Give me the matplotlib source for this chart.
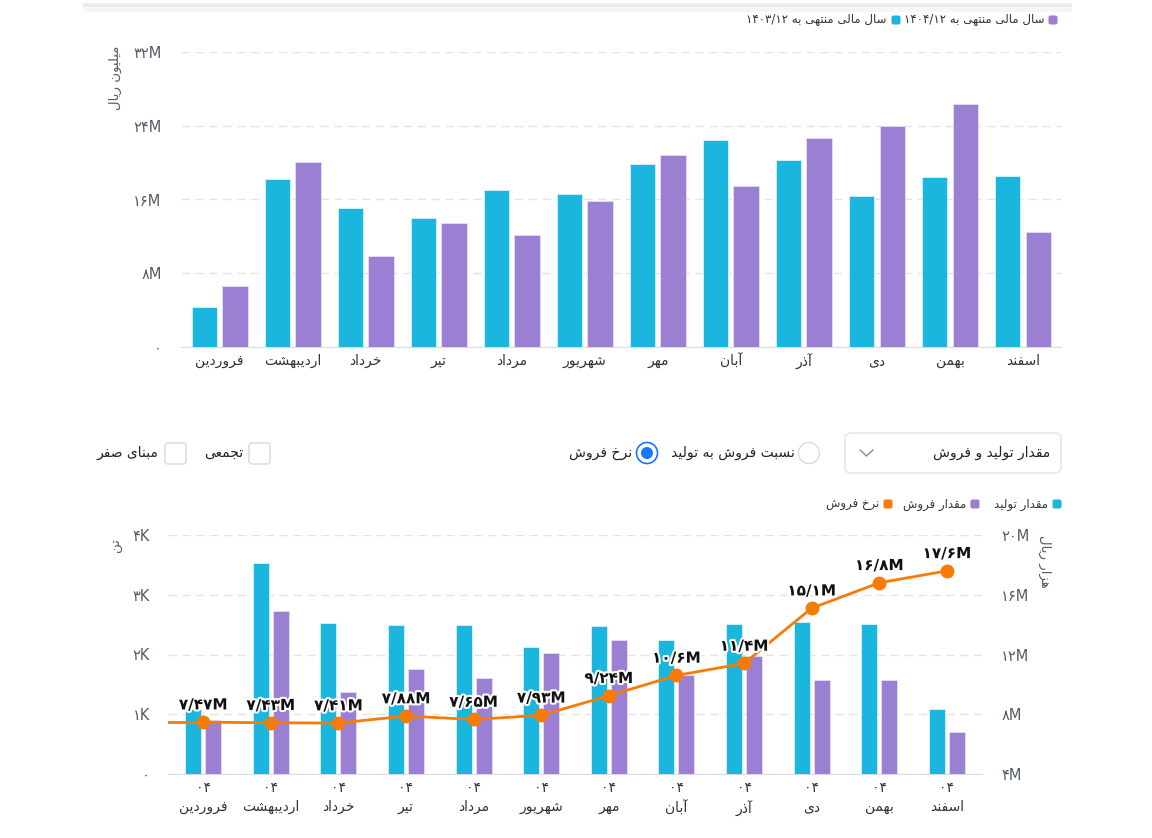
import re
import matplotlib
matplotlib.use("Agg")
import matplotlib.pyplot as plt
import matplotlib.patheffects as pe
from matplotlib.patches import FancyBboxPatch, Circle, Rectangle
from matplotlib.ticker import FuncFormatter

plt.rcParams['font.family'] = ['DejaVu Sans']

# ---------------- data ----------------
months = ['فروردین', 'اردیبهشت', 'خرداد', 'تیر', 'مرداد', 'شهریور',
          'مهر', 'آبان', 'آذر', 'دی', 'بهمن', 'اسفند']

# top chart: revenue (million rial), values in M
rev_1403 = [4.35, 18.2, 15.1, 14.0, 17.0, 16.6, 19.9, 22.4, 20.3, 16.4, 18.4, 18.5]
rev_1404 = [6.6, 20.1, 9.9, 13.5, 12.1, 15.8, 20.8, 17.5, 22.7, 24.0, 26.4, 12.5]
top_ticks = [0, 8, 16, 24, 32]

# bottom chart: production / sales (ton), sales rate (thousand rial)
production = [1090, 3530, 2520, 2490, 2490, 2120, 2470, 2240, 2510, 2540, 2510, 1080]
sales = [910, 2720, 1380, 1750, 1600, 2020, 2250, 1660, 1980, 1580, 1580, 710]
rate = [7.47e6, 7.43e6, 7.41e6, 7.88e6, 7.65e6, 7.93e6, 9.24e6, 10.6e6,
        11.4e6, 15.1e6, 16.8e6, 17.6e6]
year_tag = '04'
ton_ticks = [0, 1000, 2000, 3000, 4000]
rate_ticks = [4e6, 8e6, 12e6, 16e6, 20e6]

CYAN = '#1bb6de'
PURPLE = '#9a7fd3'
ORANGE = '#f77b07'
GRID = '#e3e3ea'
TICK = '#555a66'

# ------------- persian text helpers -------------
FORMS = {  # isolated, final, initial, medial
    'ا': (0xFE8D, 0xFE8E, None, None), 'آ': (0xFE81, 0xFE82, None, None),
    'ب': (0xFE8F, 0xFE90, 0xFE91, 0xFE92), 'پ': (0xFB56, 0xFB57, 0xFB58, 0xFB59),
    'ت': (0xFE95, 0xFE96, 0xFE97, 0xFE98), 'ث': (0xFE99, 0xFE9A, 0xFE9B, 0xFE9C),
    'ج': (0xFE9D, 0xFE9E, 0xFE9F, 0xFEA0), 'چ': (0xFB7A, 0xFB7B, 0xFB7C, 0xFB7D),
    'ح': (0xFEA1, 0xFEA2, 0xFEA3, 0xFEA4), 'خ': (0xFEA5, 0xFEA6, 0xFEA7, 0xFEA8),
    'د': (0xFEA9, 0xFEAA, None, None), 'ذ': (0xFEAB, 0xFEAC, None, None),
    'ر': (0xFEAD, 0xFEAE, None, None), 'ز': (0xFEAF, 0xFEB0, None, None),
    'ژ': (0xFB8A, 0xFB8B, None, None),
    'س': (0xFEB1, 0xFEB2, 0xFEB3, 0xFEB4), 'ش': (0xFEB5, 0xFEB6, 0xFEB7, 0xFEB8),
    'ص': (0xFEB9, 0xFEBA, 0xFEBB, 0xFEBC), 'ض': (0xFEBD, 0xFEBE, 0xFEBF, 0xFEC0),
    'ط': (0xFEC1, 0xFEC2, 0xFEC3, 0xFEC4), 'ظ': (0xFEC5, 0xFEC6, 0xFEC7, 0xFEC8),
    'ع': (0xFEC9, 0xFECA, 0xFECB, 0xFECC), 'غ': (0xFECD, 0xFECE, 0xFECF, 0xFED0),
    'ف': (0xFED1, 0xFED2, 0xFED3, 0xFED4), 'ق': (0xFED5, 0xFED6, 0xFED7, 0xFED8),
    'ک': (0xFB8E, 0xFB8F, 0xFB90, 0xFB91), 'گ': (0xFB92, 0xFB93, 0xFB94, 0xFB95),
    'ل': (0xFEDD, 0xFEDE, 0xFEDF, 0xFEE0), 'م': (0xFEE1, 0xFEE2, 0xFEE3, 0xFEE4),
    'ن': (0xFEE5, 0xFEE6, 0xFEE7, 0xFEE8), 'ه': (0xFEE9, 0xFEEA, 0xFEEB, 0xFEEC),
    'و': (0xFEED, 0xFEEE, None, None), 'ی': (0xFBFC, 0xFBFD, 0xFBFE, 0xFBFF),
}
LTR = r'0-9\u06F0-\u06F9A-Za-z/.%'


def fa_digits(s):
    return s.translate(str.maketrans('0123456789', '۰۱۲۳۴۵۶۷۸۹'))


def fa(text):
    # shape letters, then lay out right-to-left (numbers stay LTR)
    text = fa_digits(text)
    out = []
    for i, c in enumerate(text):
        if c not in FORMS:
            out.append(c)
            continue
        prev = text[i - 1] if i > 0 else ''
        nxt = text[i + 1] if i + 1 < len(text) else ''
        j_prev = prev in FORMS and FORMS[prev][2] is not None
        j_next = nxt in FORMS and FORMS[c][2] is not None
        f = FORMS[c]
        code = f[3] if (j_prev and j_next) else f[1] if j_prev else f[2] if j_next else f[0]
        out.append(chr(code))
    s = ''.join(out)
    runs = re.findall('[' + LTR + ']+|[^' + LTR + ']+', s)
    return ''.join(r if re.match('[' + LTR + ']', r) else r[::-1] for r in reversed(runs))


# ---------------- figure ----------------
W, H = 1152, 838
fig = plt.figure(figsize=(W / 100, H / 100), dpi=100, facecolor='white')


def px_axes(l, t, r, b):
    return fig.add_axes([l / W, 1 - b / H, (r - l) / W, (b - t) / H])


# overlay for widgets / legends in pixel coordinates
ov = fig.add_axes([0, 0, 1, 1], zorder=0)
ov.set_xlim(0, W)
ov.set_ylim(H, 0)
ov.axis('off')

# card top shadow
ov.add_patch(Rectangle((83, 3), 989, 4, color='#ebeaee', lw=0))
ov.add_patch(Rectangle((83, 7), 989, 5, color='#f6f5f8', lw=0))


def legend_item(x_sq, y, color, label, size=8.5):
    ov.add_patch(FancyBboxPatch((x_sq - 4.5, y - 4.5), 9, 9, boxstyle='round,pad=0,rounding_size=2',
                                fc=color, ec='none'))
    ov.text(x_sq - 9, y, fa(label), ha='right', va='center', fontsize=size, color='#333333')


legend_item(1053, 20, PURPLE, 'سال مالی منتهی به 1404/12')
legend_item(896, 20, CYAN, 'سال مالی منتهی به 1403/12')

# ---------------- top chart ----------------
ax1 = px_axes(181, 52, 1061, 347)
x = range(len(months))
ax1.bar([i - 0.21 for i in x], rev_1403, width=0.35, color=CYAN, edgecolor='#d8f3fa', linewidth=0.6, zorder=3)
ax1.bar([i + 0.21 for i in x], rev_1404, width=0.35, color=PURPLE, edgecolor='#e6def7', linewidth=0.6, zorder=3)
ax1.set_xlim(-0.53, 11.52)
ax1.set_ylim(0, 32)
ax1.set_yticks(top_ticks)
ax1.yaxis.set_major_formatter(FuncFormatter(lambda v, _: fa_digits(f'{v:g}M') if v else '۰'))
ax1.set_xticks(list(x))
ax1.set_xticklabels([fa(m) for m in months], fontsize=10, color='#333333')
ax1.tick_params(axis='y', length=0, pad=14, labelsize=10.5, labelcolor=TICK)
ax1.tick_params(axis='x', length=0, pad=5)
ax1.grid(axis='y', color=GRID, linestyle=(0, (6, 4)), linewidth=1, zorder=0)
for s in ['top', 'right', 'left']:
    ax1.spines[s].set_visible(False)
ax1.spines['bottom'].set_color('#dcdce6')
ax1.set_facecolor('none')
ov.text(115, 46, fa('میلیون ریال'), rotation=90, ha='center', va='top', fontsize=9.5, color=TICK)

# ---------------- middle controls ----------------
ov.add_patch(FancyBboxPatch((845, 433), 216, 40, boxstyle='round,pad=0,rounding_size=6',
                            fc='white', ec='#e2e2e8', lw=1))
ov.text(1050, 453, fa('مقدار تولید و فروش'), ha='right', va='center', fontsize=10, color='#222222')
ov.plot([860, 866.5, 873], [450, 456, 450], color='#8a8a95', lw=1)

ov.add_patch(Circle((809, 453), 10.5, fc='white', ec='#d9d9de', lw=1))
ov.text(795, 453, fa('نسبت فروش به تولید'), ha='right', va='center', fontsize=10, color='#222222')
ov.add_patch(Circle((647, 453), 10.5, fc='white', ec='#1677ff', lw=1.2))
ov.add_patch(Circle((647, 453), 6, fc='#1677ff', ec='none'))
ov.text(632, 453, fa('نرخ فروش'), ha='right', va='center', fontsize=10, color='#222222')

ov.add_patch(FancyBboxPatch((249, 443), 21, 21, boxstyle='round,pad=0,rounding_size=3',
                            fc='white', ec='#d9d9de', lw=1))
ov.text(243, 453, fa('تجمعی'), ha='right', va='center', fontsize=10, color='#222222')
ov.add_patch(FancyBboxPatch((165, 443), 21, 21, boxstyle='round,pad=0,rounding_size=3',
                            fc='white', ec='#d9d9de', lw=1))
ov.text(158, 453, fa('مبنای صفر'), ha='right', va='center', fontsize=10, color='#222222')

legend_item(1057, 504, CYAN, 'مقدار تولید')
legend_item(975, 504, PURPLE, 'مقدار فروش')
legend_item(888, 504, ORANGE, 'نرخ فروش')

# ---------------- bottom chart ----------------
ax2 = px_axes(168, 535, 982, 774)
ax2.bar([i - 0.148 for i in x], production, width=0.235, color=CYAN, edgecolor='#d8f3fa', linewidth=0.6, zorder=3)
ax2.bar([i + 0.148 for i in x], sales, width=0.235, color=PURPLE, edgecolor='#e6def7', linewidth=0.6, zorder=3)
ax2.set_xlim(-0.52, 11.52)
ax2.set_ylim(0, 4000)
ax2.set_yticks(ton_ticks)
ax2.yaxis.set_major_formatter(FuncFormatter(lambda v, _: fa_digits(f'{v / 1000:g}K') if v else '۰'))
ax2.set_xticks(list(x))
ax2.set_xticklabels([fa_digits(year_tag) + '\n' + fa(m) for m in months], fontsize=10,
                    color='#333333', linespacing=1.45)
ax2.tick_params(axis='y', length=0, pad=13, labelsize=10.5, labelcolor=TICK)
ax2.tick_params(axis='x', length=0, pad=5)
ax2.grid(axis='y', color=GRID, linestyle=(0, (6, 4)), linewidth=1, zorder=0)
for s in ['top', 'right', 'left']:
    ax2.spines[s].set_visible(False)
ax2.spines['bottom'].set_color('#dcdce6')
ax2.set_facecolor('none')

ax3 = ax2.twinx()
ax3.set_ylim(4e6, 20e6)
ax3.set_yticks(rate_ticks)
ax3.yaxis.set_major_formatter(FuncFormatter(lambda v, _: fa_digits(f'{v / 1e6:g}M')))
ax3.tick_params(axis='y', length=0, pad=14, labelsize=10.5, labelcolor=TICK)
for s in ax3.spines.values():
    s.set_visible(False)
ax3.plot([-0.52, 0], [rate[0], rate[0]], color=ORANGE, lw=2, zorder=4)
ax3.plot(list(x), rate, color=ORANGE, lw=2, marker='o', markersize=9, zorder=4)
for i, v in enumerate(rate):
    lbl = fa_digits(f'{v / 1e6:.3g}'.replace('.', '/') + 'M')
    ax3.annotate(lbl, (i, v), xytext=(0, 7), textcoords='offset points', ha='center', va='bottom',
                 fontsize=11, fontweight='bold', color='#111111',
                 path_effects=[pe.withStroke(linewidth=3, foreground='white')], zorder=5)

ov.text(116, 538, fa('تن'), rotation=90, ha='center', va='top', fontsize=9.5, color=TICK)
ov.text(1045, 535, fa('هزار ریال'), rotation=270, ha='center', va='top', fontsize=9.5, color=TICK)

fig.savefig('out.png', dpi=100, facecolor='white')
